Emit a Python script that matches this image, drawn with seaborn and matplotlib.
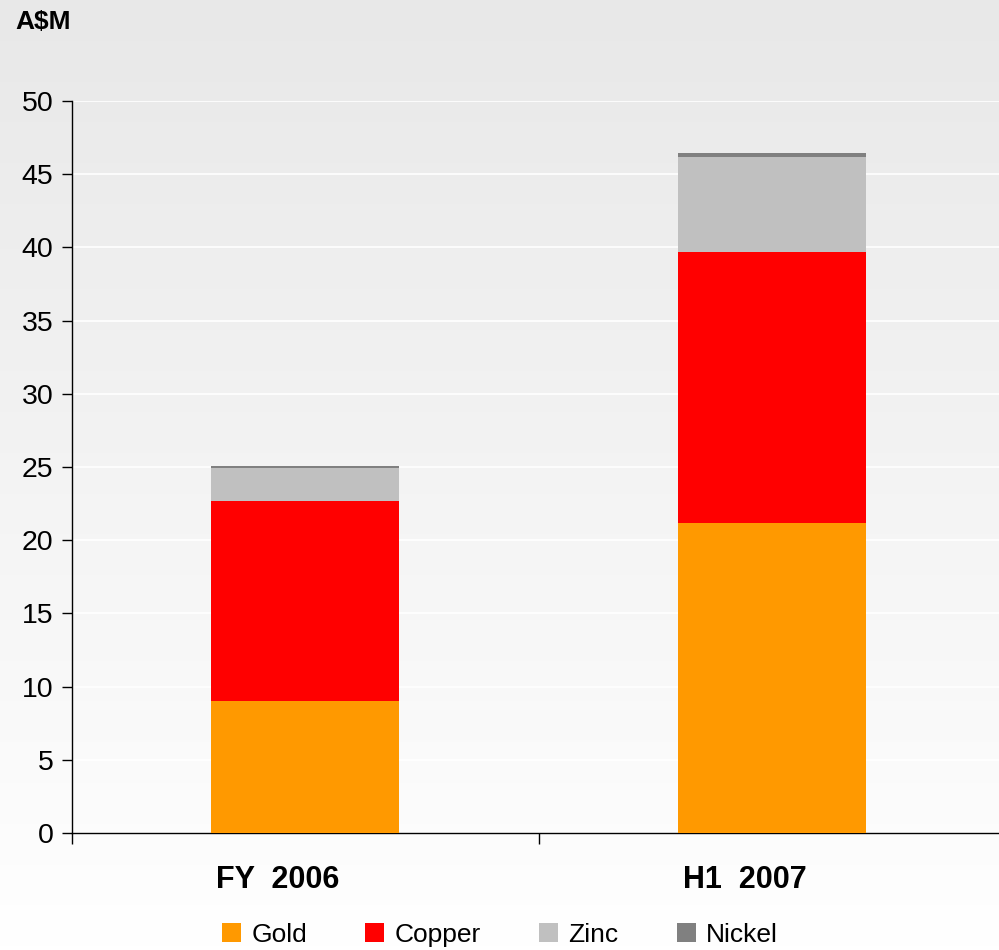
import numpy as np
import pandas as pd
import matplotlib
matplotlib.use("Agg")
import matplotlib.pyplot as plt
import seaborn as sns
from matplotlib.patches import Patch

periods = ["FY  2006", "H1  2007"]
gold = [9.0, 21.2]
copper = [13.7, 18.5]
zinc = [2.25, 6.5]
nickel = [0.15, 0.28]

series_names = ["Gold", "Copper", "Zinc", "Nickel"]
series_colors = ["#FF9900", "#FF0000", "#C0C0C0", "#808080"]

sns.set_style("white")
plt.rcParams["font.family"] = ["Liberation Sans", "DejaVu Sans"]
plt.rcParams["text.color"] = "black"
plt.rcParams["ytick.color"] = "black"
plt.rcParams["xtick.color"] = "black"

fig = plt.figure(figsize=(9.99, 9.5), dpi=100)

# gradient background behind everything
bg = fig.add_axes([0, 0, 1, 1], zorder=-10)
grad = np.linspace(0.91, 1.0, 256).reshape(-1, 1)
bg.imshow(np.dstack([grad, grad, grad]), aspect="auto", extent=[0, 1, 0, 1], origin="upper")
bg.axis("off")

ax = fig.add_axes([71.5 / 999, 1 - 833 / 950, 934 / 999, 732 / 950])
ax.patch.set_alpha(0)

df = pd.DataFrame({"period": periods, "Gold": gold, "Copper": copper,
                   "Zinc": zinc, "Nickel": nickel})
cum = df[series_names].cumsum(axis=1)

# draw cumulative totals from the tallest down so each layer sits on top
for name, col in reversed(list(zip(series_names, series_colors))):
    sns.barplot(x=df["period"], y=cum[name], color=col, width=0.403,
                saturation=1, linewidth=0, edgecolor="none", ax=ax, zorder=3)

ax.set_ylim(0, 50)
ax.set_xlim(-0.5, 1.5)
ax.set_yticks(range(0, 51, 5))
ax.yaxis.grid(True, color="white", linewidth=1.2, zorder=0)
ax.set_axisbelow(True)
ax.tick_params(axis="y", labelsize=20.5, length=7, width=1, direction="out",
               left=True, colors="black", pad=6)
ax.set_xticks([-0.5, 0.5, 1.5])
ax.set_xticklabels([])
ax.tick_params(axis="x", length=8, width=1, direction="out", bottom=True, colors="black")
for i, lab in enumerate(periods):
    ax.text(i - 0.19, -3.2, lab, ha="left", va="center", fontsize=22,
            fontweight="bold", color="black")
ax.set_xlabel("")
ax.set_ylabel("")
for s in ["top", "right"]:
    ax.spines[s].set_visible(False)
for s in ["left", "bottom"]:
    ax.spines[s].set_color("black")
    ax.spines[s].set_linewidth(1)

fig.text(15 / 999, 1 - 22 / 950, "A$M", fontsize=19, fontweight="bold",
         ha="left", va="center", color="black")

handles = [Patch(facecolor=c, edgecolor="none", label=n)
           for n, c in zip(series_names, series_colors)]
fig.legend(handles=handles, loc="center", bbox_to_anchor=(500 / 999, 1 - 935 / 950),
           ncol=4, frameon=False, fontsize=19, handlelength=0.72, handleheight=0.72,
           handletextpad=0.4, columnspacing=2.2, borderaxespad=0)

fig.savefig("out.png", dpi=100)
